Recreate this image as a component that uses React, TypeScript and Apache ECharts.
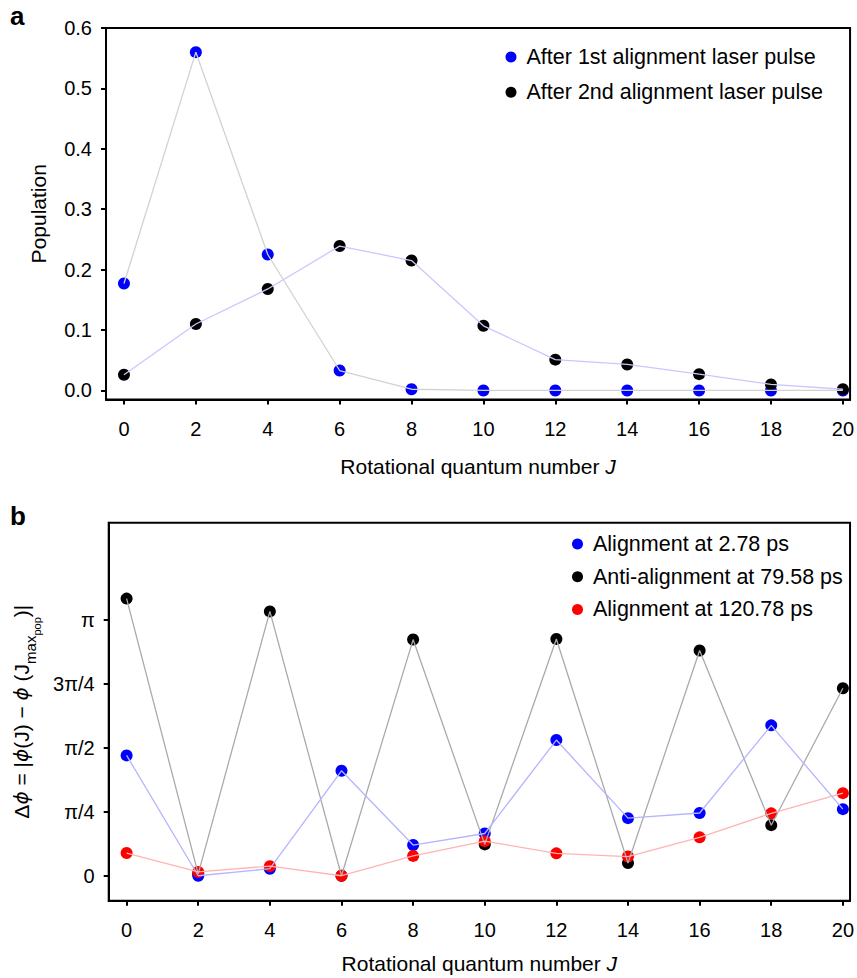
import React, { useEffect, useRef } from 'react';
import * as echarts from 'echarts';

const FONT = '"Liberation Sans", Arial, Helvetica, "DejaVu Sans", sans-serif';

// Panel a: rotational population
const J = [0, 2, 4, 6, 8, 10, 12, 14, 16, 18, 20];
const pop1st = [0.177, 0.56, 0.225, 0.033, 0.002, 0.0, 0.0, 0.0, 0.0, 0.0, 0.0];
const pop2nd = [0.026, 0.11, 0.168, 0.239, 0.215, 0.107, 0.051, 0.043, 0.027, 0.01, 0.002];
const popTicks = [0, 0.1, 0.2, 0.3, 0.4, 0.5, 0.6];

// Panel b: phase difference, in units of π/4
const phase278 = [1.88, 0.0, 0.11, 1.64, 0.48, 0.66, 2.12, 0.9, 0.98, 2.35, 1.04];
const phase7958 = [4.33, 0.03, 4.13, 0.0, 3.69, 0.49, 3.7, 0.2, 3.52, 0.79, 2.93];
const phase12078 = [0.355, 0.06, 0.15, 0.0, 0.31, 0.54, 0.35, 0.3, 0.6, 0.975, 1.29];
const phaseTicks = [0, 1, 2, 3, 4];
const phaseTickLabels = ['0', 'π/4', 'π/2', '3π/4', 'π'];

const legendA = ['After 1st alignment laser pulse', 'After 2nd alignment laser pulse'];
const legendB = ['Alignment at 2.78 ps', 'Anti-alignment at 79.58 ps', 'Alignment at 120.78 ps'];

const pts = (ys: number[]) => J.map((j, i) => [j, ys[i]]);

const tickStyle = { show: true, inside: false, length: 5, lineStyle: { color: '#000', width: 2 } };
const lineAxis = { show: true, onZero: false, lineStyle: { color: '#000', width: 2 } };
const labelBase = { color: '#000', fontSize: 20, fontFamily: FONT };

function xAxisFor(grid: number, gap: number) {
  return {
    gridIndex: grid,
    type: 'value',
    min: -0.5,
    max: 20.2,
    axisLine: lineAxis,
    axisTick: { ...tickStyle, customValues: J },
    axisLabel: { ...labelBase, margin: 19, customValues: J },
    splitLine: { show: false },
    name: 'Rotational quantum number {i|J}',
    nameLocation: 'middle',
    nameGap: gap,
    nameTextStyle: {
      color: '#000',
      fontSize: 21,
      fontFamily: FONT,
      rich: { i: { fontStyle: 'italic', fontSize: 21, fontFamily: FONT, color: '#000' } },
    },
  };
}

function lineSeries(name: string, grid: number, ys: number[], color: string) {
  return {
    name,
    type: 'line',
    xAxisIndex: grid,
    yAxisIndex: grid,
    data: pts(ys),
    symbol: 'none',
    lineStyle: { color, width: 1.3 },
    silent: true,
  };
}

function dotSeries(name: string, grid: number, ys: number[], color: string) {
  return {
    name,
    type: 'scatter',
    xAxisIndex: grid,
    yAxisIndex: grid,
    data: pts(ys),
    symbol: 'circle',
    symbolSize: 12,
    itemStyle: { color, opacity: 1 },
  };
}

export default function App() {
  const ref = useRef<HTMLDivElement>(null);
  useEffect(() => {
    if (!ref.current) return;
    const chart = echarts.init(ref.current, null, { renderer: 'svg' });
    const d = { fontSize: 21, lineHeight: 25, verticalAlign: 'top', fontFamily: FONT, color: '#000' };
    const p = { ...d, fontStyle: 'italic', fontFamily: '"DejaVu Sans", sans-serif', fontSize: 20 };
    const s = { fontSize: 15, lineHeight: 15, padding: [12, 0, 0, 0], verticalAlign: 'top', fontFamily: FONT, color: '#000' };
    const ss = { fontSize: 11, lineHeight: 11, padding: [20, 0, 0, 0], verticalAlign: 'top', fontFamily: FONT, color: '#000' };
    const legendText = { color: '#000', fontSize: 21.5, lineHeight: 21, fontFamily: FONT, padding: [0, 0, 0, 5] };
    chart.setOption({
      animation: false,
      backgroundColor: '#fff',
      textStyle: { fontFamily: FONT },
      grid: [
        { left: 106, top: 28, width: 746.7, height: 371.5, show: true, borderColor: '#000', borderWidth: 2, backgroundColor: 'transparent' },
        { left: 108.7, top: 522.7, width: 743.3, height: 378, show: true, borderColor: '#000', borderWidth: 2, backgroundColor: 'transparent' },
      ],
      xAxis: [xAxisFor(0, 56), xAxisFor(1, 52)],
      yAxis: [
        {
          gridIndex: 0,
          type: 'value',
          min: -0.015,
          max: 0.6,
          axisLine: lineAxis,
          axisTick: { ...tickStyle, customValues: popTicks },
          axisLabel: { ...labelBase, margin: 14, customValues: popTicks, formatter: (v: number) => v.toFixed(1) },
          splitLine: { show: false },
          name: 'Population',
          nameLocation: 'middle',
          nameRotate: 90,
          nameGap: 57,
          nameTextStyle: { color: '#000', fontSize: 21, fontFamily: FONT },
        },
        {
          gridIndex: 1,
          type: 'value',
          min: -0.39,
          max: 5.516,
          axisLine: lineAxis,
          axisTick: { ...tickStyle, customValues: phaseTicks },
          axisLabel: {
            ...labelBase,
            margin: 14,
            customValues: phaseTicks,
            formatter: (v: number) => phaseTickLabels[Math.round(v)] ?? '',
          },
          splitLine: { show: false },
          name: '{d|Δ}{p|ϕ}{d| = |}{p|ϕ}{d|(J) − }{p|ϕ}{d| (J}{s|max}{ss|pop}{d|)|}',
          nameLocation: 'middle',
          nameRotate: 90,
          nameGap: 51,
          nameTextStyle: { color: '#000', fontSize: 21, fontFamily: FONT, rich: { d, p, s, ss } },
        },
      ],
      legend: [
        {
          data: legendA,
          orient: 'vertical',
          left: 505.5,
          top: 46,
          padding: 0,
          icon: 'circle',
          itemWidth: 11,
          itemHeight: 11,
          itemGap: 13.3,
          selectedMode: false,
          textStyle: legendText,
        },
        {
          data: legendB,
          orient: 'vertical',
          left: 572,
          top: 533,
          padding: 0,
          icon: 'circle',
          itemWidth: 11,
          itemHeight: 11,
          itemGap: 10.7,
          selectedMode: false,
          textStyle: legendText,
        },
      ],
      graphic: [
        { type: 'text', left: 10, top: 3, style: { text: 'a', fontSize: 26, fontWeight: 'bold', fontFamily: FONT, fill: '#000' } },
        { type: 'text', left: 10, top: 503, style: { text: 'b', fontSize: 26, fontWeight: 'bold', fontFamily: FONT, fill: '#000' } },
      ],
      series: [
        lineSeries('l1', 0, pop1st, '#d2d2d2'),
        lineSeries('l2', 0, pop2nd, '#c8c8ff'),
        dotSeries(legendA[0], 0, pop1st, '#0000ff'),
        dotSeries(legendA[1], 0, pop2nd, '#000000'),
        lineSeries('l3', 1, phase7958, '#aaaaaa'),
        lineSeries('l4', 1, phase278, '#b4b4ff'),
        lineSeries('l5', 1, phase12078, '#ffb4b4'),
        dotSeries(legendB[1], 1, phase7958, '#000000'),
        dotSeries(legendB[0], 1, phase278, '#0000ff'),
        dotSeries(legendB[2], 1, phase12078, '#ff0000'),
      ],
    });
    return () => chart.dispose();
  }, []);
  return <div ref={ref} style={{ position: 'fixed', left: 0, top: 0, width: 857, height: 978 }} />;
}
